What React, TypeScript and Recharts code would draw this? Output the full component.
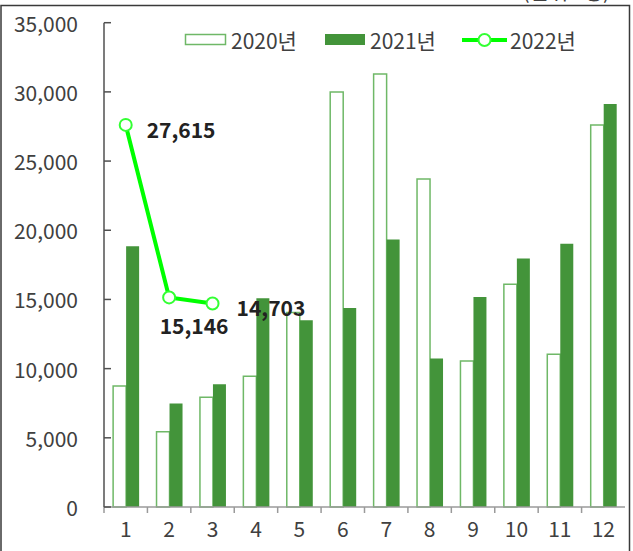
import React from "react";
import { ComposedChart, Bar, Line, XAxis, YAxis } from "recharts";

const months = ["1", "2", "3", "4", "5", "6", "7", "8", "9", "10", "11", "12"];
const v2020 = [8750, 5430, 7930, 9450, 14050, 30000, 31300, 23700, 10560, 16090, 11040, 27600];
const v2021 = [18850, 7480, 8880, 15080, 13500, 14380, 19340, 10730, 15180, 17950, 19030, 29130];
const v2022: (number | null)[] = [27615, 15146, 14703, null, null, null, null, null, null, null, null, null];
const yTicks = [0, 5000, 10000, 15000, 20000, 25000, 30000, 35000];
const seriesNames = ["2020년", "2021년", "2022년"];
const unitText = "(단위 : 명)";

const data = months.map((m, i) => ({ m, a: v2020[i], b: v2021[i], c: v2022[i] }));

const FONT = "'Noto Sans CJK KR', 'Noto Sans', sans-serif";
const W = 633;
const H = 551;
const PLOT_LEFT = 104;
const PLOT_RIGHT = 625;
const HALF_BAND = (PLOT_RIGHT - PLOT_LEFT) / months.length / 2;

const fmt = (v: number) => v.toLocaleString("en-US");

const YTick = (props: any) => {
  const { x, y, payload } = props;
  return (
    <g>
      <line x1={x} x2={x + 7} y1={y} y2={y} stroke="#505050" strokeWidth={1.5} />
      <text x={x - 26} y={y} textAnchor="end" dominantBaseline="central" fontSize={21} fontFamily={FONT} fill="#404040">
        {fmt(payload.value)}
      </text>
    </g>
  );
};

const XTick = (props: any) => {
  const { x, y, payload } = props;
  return (
    <g>
      <line x1={x - HALF_BAND} x2={x - HALF_BAND} y1={y} y2={y + 6} stroke="#9a9a9a" strokeWidth={1.5} />
      <text x={x} y={y + 21} textAnchor="middle" dominantBaseline="central" fontSize={21} fontFamily={FONT} fill="#404040">
        {payload.value}
      </text>
    </g>
  );
};

const labelOffsets = [
  { dx: 21, dy: 4, anchor: "start" },
  { dx: 25, dy: 28, anchor: "middle" },
  { dx: 24, dy: 3, anchor: "start" },
];

const LineLabel = (props: any) => {
  const { x, y, value, index } = props;
  if (value == null) return null;
  const o = labelOffsets[index] || labelOffsets[0];
  return (
    <text
      x={x + o.dx}
      y={y + o.dy}
      textAnchor={o.anchor}
      dominantBaseline="central"
      fontSize={21}
      fontWeight="bold"
      fontFamily={FONT}
      fill="#222"
    >
      {fmt(value)}
    </text>
  );
};

export default function App() {
  return (
    <div style={{ position: "absolute", left: 0, top: 0, width: W, height: H, background: "#fff" }}>
      <ComposedChart
        width={W}
        height={H}
        data={data}
        margin={{ top: 22.7, right: W - PLOT_RIGHT, bottom: 0, left: 0 }}
        barCategoryGap="21%"
        barGap={0}
      >
        <XAxis
          dataKey="m"
          height={44}
          tickLine={false}
          tickSize={0}
          tickMargin={0}
          tick={<XTick />}
          axisLine={{ stroke: "#9a9a9a", strokeWidth: 1.5 }}
          interval={0}
        />
        <YAxis
          width={PLOT_LEFT}
          domain={[0, 35000]}
          ticks={yTicks}
          tickLine={false}
          tickSize={0}
          tickMargin={0}
          tick={<YTick />}
          axisLine={{ stroke: "#505050", strokeWidth: 1.5 }}
          interval={0}
        />
        <Bar dataKey="a" name={seriesNames[0]} fill="#ffffff" stroke="#6fb867" strokeWidth={1.5} isAnimationActive={false} />
        <Bar dataKey="b" name={seriesNames[1]} fill="#43943a" isAnimationActive={false} />
        <Line
          dataKey="c"
          name={seriesNames[2]}
          stroke="#00ff00"
          strokeWidth={4}
          dot={{ r: 6, fill: "#ffffff", stroke: "#33ff33", strokeWidth: 2 }}
          activeDot={false}
          label={<LineLabel />}
          isAnimationActive={false}
        />
      </ComposedChart>
      <svg width={W} height={H} style={{ position: "absolute", left: 0, top: 0, pointerEvents: "none" }}>
        <path d={`M1,${H} L1,5.5 L629.5,5.5 L629.5,${H}`} fill="none" stroke="#3a3a3a" strokeWidth={1.5} />
        <text x={610} y={-1} textAnchor="end" fontSize={21} fontFamily={FONT} fill="#404040">
          {unitText}
        </text>
        <rect x={185.5} y={34.5} width={40} height={10} fill="#fff" stroke="#6fb867" strokeWidth={1.5} />
        <text x={231} y={40} dominantBaseline="central" fontSize={21} fontFamily={FONT} fill="#404040">
          {seriesNames[0]}
        </text>
        <rect x={325} y={34} width={40} height={11} fill="#43943a" />
        <text x={370} y={40} dominantBaseline="central" fontSize={21} fontFamily={FONT} fill="#404040">
          {seriesNames[1]}
        </text>
        <line x1={462} x2={507} y1={40} y2={40} stroke="#00ff00" strokeWidth={4} />
        <circle cx={484.5} cy={40} r={6} fill="#fff" stroke="#33ff33" strokeWidth={2} />
        <text x={510} y={40} dominantBaseline="central" fontSize={21} fontFamily={FONT} fill="#404040">
          {seriesNames[2]}
        </text>
      </svg>
    </div>
  );
}
